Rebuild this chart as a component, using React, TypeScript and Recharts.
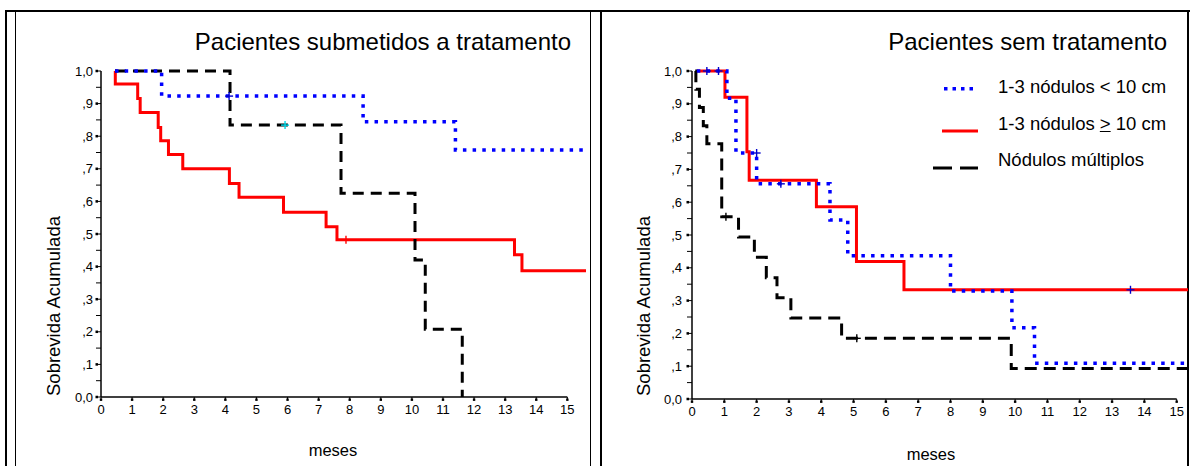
import React from 'react';
import { ComposedChart, Line, Scatter, XAxis, YAxis, ReferenceLine } from 'recharts';

const FONT = '"Liberation Sans", Arial, Helvetica, sans-serif';

const BLUE = '#0000ff';
const RED = '#ff0000';
const BLACK = '#000000';

// axis ticks
const monthTicks = [0, 1, 2, 3, 4, 5, 6, 7, 8, 9, 10, 11, 12, 13, 14, 15];
const survivalTicks = [
  0, 0.05, 0.1, 0.15, 0.2, 0.25, 0.3, 0.35, 0.4, 0.45, 0.5,
  0.55, 0.6, 0.65, 0.7, 0.75, 0.8, 0.85, 0.9, 0.95, 1,
];

// Pacientes submetidos a tratamento (step points: time in months, cumulative survival)
const treatedSmallT = [0.45, 1.95, 8.43, 11.4, 15.6];
const treatedSmallS = [1.0, 0.923, 0.844, 0.758, 0.758];
const treatedLargeT = [0.45, 0.46, 1.18, 1.26, 1.84, 1.92, 2.17, 2.63, 4.13, 4.44, 5.87, 7.24, 7.59, 13.3, 13.54, 15.6];
const treatedLargeS = [1.0, 0.96, 0.916, 0.873, 0.827, 0.786, 0.744, 0.7, 0.655, 0.613, 0.567, 0.522, 0.482, 0.436, 0.387, 0.387];
const treatedMultiT = [0.45, 4.15, 7.72, 10.1, 10.43, 11.62];
const treatedMultiS = [1.0, 0.834, 0.625, 0.42, 0.208, 0];

// censored cases (treated)
const treatedCensorBlueT = [4.12];
const treatedCensorBlueS = [0.923];
const treatedCensorCyanT = [5.92];
const treatedCensorCyanS = [0.834];
const treatedCensorRedT = [7.88];
const treatedCensorRedS = [0.482];

// Pacientes sem tratamento
const untreatedSmallT = [0.15, 1.08, 1.36, 2.0, 4.27, 4.82, 8.0, 9.9, 10.6, 15.35];
const untreatedSmallS = [1.0, 0.917, 0.75, 0.656, 0.546, 0.437, 0.329, 0.217, 0.109, 0.109];
const untreatedLargeT = [0.15, 1.02, 1.7, 1.77, 3.85, 5.09, 6.56, 15.35];
const untreatedLargeS = [1.0, 0.92, 0.754, 0.667, 0.586, 0.419, 0.333, 0.333];
const untreatedMultiT = [0.1, 0.12, 0.23, 0.35, 0.46, 0.92, 1.44, 1.93, 2.3, 2.63, 3.06, 4.63, 9.88, 15.35];
const untreatedMultiS = [1.0, 0.944, 0.889, 0.833, 0.778, 0.556, 0.494, 0.432, 0.37, 0.309, 0.247, 0.185, 0.093, 0.093];

// censored cases (untreated)
const untreatedCensorBlueT = [0.46, 0.82, 2.0, 2.75, 13.57];
const untreatedCensorBlueS = [1.0, 1.0, 0.75, 0.656, 0.333];
const untreatedCensorBlackT = [1.05, 5.1];
const untreatedCensorBlackS = [0.556, 0.185];

const toPoints = (t: number[], s: number[]) => t.map((x, i) => ({ t: x, s: s[i] }));

type Series = { key: string; t: number[]; s: number[]; color: string; dash?: string; width: number };
type Censor = { key: string; t: number[]; s: number[]; color: string };

const X_TICK_SIZE = 3;
const X_TICK_MARGIN = 5;
const Y_TICK_SIZE = 5;
const TICK_FONT = 13;

function XTick(props: any) {
  const { x, y, payload } = props;
  const axisY = y - X_TICK_SIZE - X_TICK_MARGIN;
  return (
    <g>
      <rect x={x - 1.2} y={axisY + 1.5} width={2.4} height={2.4} fill="#000" />
      <text x={x} y={y} dy="0.71em" textAnchor="middle" fontSize={TICK_FONT} fontFamily={FONT} fill="#000">
        {payload.value}
      </text>
    </g>
  );
}

function YTick(props: any) {
  const { x, y, payload, gap } = props;
  const v = payload.value as number;
  if (Math.round(v * 100) % 10 !== 0) return <g />;
  const axisX = x + Y_TICK_SIZE + gap;
  const label = v === 1 ? '1,0' : v === 0 ? '0,0' : ',' + Math.round(v * 10);
  return (
    <g>
      <rect x={axisX - Y_TICK_SIZE - 0.5} y={y - 1.25} width={2.5} height={2.5} fill="#000" />
      <text x={x} y={y} dy="0.36em" textAnchor="end" fontSize={TICK_FONT} fontFamily={FONT} fill="#000">
        {label}
      </text>
    </g>
  );
}

function Plus({ cx, cy, color }: { cx: number; cy: number; color: string }) {
  return (
    <g stroke={color} strokeWidth={1.4}>
      <line x1={cx - 4} y1={cy} x2={cx + 4} y2={cy} />
      <line x1={cx} y1={cy - 4} x2={cx} y2={cy + 4} />
    </g>
  );
}

interface PanelProps {
  width: number;
  xMax: number;
  margin: { top: number; right: number; bottom: number; left: number };
  gap: number;
  series: Series[];
  censors: Censor[];
}

function KmPanel({ width, xMax, margin, gap, series, censors }: PanelProps) {
  return (
    <ComposedChart width={width} height={466} margin={margin}>
      <XAxis
        type="number"
        dataKey="t"
        domain={[0, xMax]}
        ticks={monthTicks}
        interval={0}
        height={30}
        axisLine={false}
        tickLine={{ stroke: '#000' }}
        tickSize={X_TICK_SIZE}
        tickMargin={X_TICK_MARGIN}
        tick={(p: any) => <XTick {...p} />}
        allowDataOverflow
      />
      <YAxis
        type="number"
        domain={[0, 1]}
        ticks={survivalTicks}
        interval={0}
        width={40}
        axisLine={{ stroke: '#000', strokeWidth: 1.5 }}
        tickLine={{ stroke: '#000' }}
        tickSize={Y_TICK_SIZE}
        tickMargin={gap}
        tick={(p: any) => <YTick {...p} gap={gap} />}
      />
      <ReferenceLine segment={[{ x: 0, y: 0 }, { x: 15, y: 0 }]} stroke="#000" strokeWidth={1.5} />
      {series.map((sr) => (
        <Line
          key={sr.key}
          data={toPoints(sr.t, sr.s)}
          dataKey="s"
          type="stepAfter"
          stroke={sr.color}
          strokeWidth={sr.width}
          strokeDasharray={sr.dash}
          dot={false}
          activeDot={false}
          isAnimationActive={false}
        />
      ))}
      {censors.map((c) => (
        <Scatter
          key={c.key}
          data={toPoints(c.t, c.s)}
          dataKey="s"
          isAnimationActive={false}
          shape={(p: any) => <Plus cx={p.cx} cy={p.cy} color={c.color} />}
        />
      ))}
    </ComposedChart>
  );
}

const abs = (style: React.CSSProperties): React.CSSProperties => ({ position: 'absolute', ...style });

export default function App() {
  const treatedSeries: Series[] = [
    { key: 'large', t: treatedLargeT, s: treatedLargeS, color: RED, width: 3 },
    { key: 'multi', t: treatedMultiT, s: treatedMultiS, color: BLACK, dash: '11 7', width: 3 },
    { key: 'small', t: treatedSmallT, s: treatedSmallS, color: BLUE, dash: '3.5 6.2', width: 3.5 },
  ];
  const treatedCensors: Censor[] = [
    { key: 'cb', t: treatedCensorBlueT, s: treatedCensorBlueS, color: '#0000cc' },
    { key: 'cc', t: treatedCensorCyanT, s: treatedCensorCyanS, color: '#00d8e8' },
    { key: 'cr', t: treatedCensorRedT, s: treatedCensorRedS, color: RED },
  ];
  const untreatedSeries: Series[] = [
    { key: 'large', t: untreatedLargeT, s: untreatedLargeS, color: RED, width: 3 },
    { key: 'multi', t: untreatedMultiT, s: untreatedMultiS, color: BLACK, dash: '12 7', width: 3 },
    { key: 'small', t: untreatedSmallT, s: untreatedSmallS, color: BLUE, dash: '3.5 6.2', width: 3.5 },
  ];
  const untreatedCensors: Censor[] = [
    { key: 'cb', t: untreatedCensorBlueT, s: untreatedCensorBlueS, color: '#0000cc' },
    { key: 'ck', t: untreatedCensorBlackT, s: untreatedCensorBlackS, color: BLACK },
  ];

  const rotLabel: React.CSSProperties = {
    position: 'absolute',
    transform: 'translate(-50%, -50%) rotate(-90deg)',
    whiteSpace: 'nowrap',
    fontSize: 18.5,
    lineHeight: 1,
  };

  return (
    <div style={abs({ left: 0, top: 0, width: 1190, height: 466, background: '#fff', fontFamily: FONT, color: '#000', overflow: 'hidden' })}>
      {/* table borders */}
      <div style={abs({ left: 5, top: 10, width: 1185, height: 2, background: '#000' })} />
      <div style={abs({ left: 5, top: 10, width: 2, height: 456, background: '#000' })} />
      <div style={abs({ left: 15, top: 12, width: 1, height: 454, background: '#000' })} />
      <div style={abs({ left: 590, top: 12, width: 1, height: 454, background: '#000' })} />
      <div style={abs({ left: 600, top: 12, width: 2, height: 454, background: '#000' })} />
      <div style={abs({ left: 1187, top: 12, width: 2, height: 454, background: '#000' })} />

      {/* left panel */}
      <div style={abs({ left: 0, top: 0 })}>
        <KmPanel
          width={600}
          xMax={15.6}
          margin={{ top: 71, right: 14, bottom: 39, left: 61 }}
          gap={3}
          series={treatedSeries}
          censors={treatedCensors}
        />
      </div>
      <div style={abs({ left: 0, top: 30, width: 571, textAlign: 'right', fontSize: 24, lineHeight: 1, whiteSpace: 'nowrap' })}>
        Pacientes submetidos a tratamento
      </div>
      <div style={{ ...rotLabel, left: 54, top: 306 }}>Sobrevida Acumulada</div>
      <div style={abs({ left: 333, top: 450, transform: 'translate(-50%, -50%)', fontSize: 16.5, lineHeight: 1 })}>meses</div>

      {/* right panel */}
      <div style={abs({ left: 600, top: 0 })}>
        <KmPanel
          width={590}
          xMax={15.35}
          margin={{ top: 71, right: 2, bottom: 37, left: 52 }}
          gap={5}
          series={untreatedSeries}
          censors={untreatedCensors}
        />
      </div>
      <div style={abs({ left: 600, top: 30, width: 567, textAlign: 'right', fontSize: 24, lineHeight: 1, whiteSpace: 'nowrap' })}>
        Pacientes sem tratamento
      </div>
      <div style={{ ...rotLabel, left: 644, top: 306 }}>Sobrevida Acumulada</div>
      <div style={abs({ left: 931, top: 454, transform: 'translate(-50%, -50%)', fontSize: 16.5, lineHeight: 1 })}>meses</div>

      {/* legend */}
      <svg style={abs({ left: 925, top: 80, overflow: 'visible' })} width={60} height={100}>
        <line x1={19} y1={8.7} x2={52} y2={8.7} stroke={BLUE} strokeWidth={3.5} strokeDasharray="3.5 5" />
        <line x1={17} y1={51} x2={53} y2={51} stroke={RED} strokeWidth={3} />
        <line x1={8} y1={88} x2={53} y2={88} stroke={BLACK} strokeWidth={3} strokeDasharray="19 8" />
      </svg>
      <div style={abs({ left: 998, top: 78, fontSize: 18.5, lineHeight: 1, whiteSpace: 'nowrap' })}>1-3 nódulos &lt; 10 cm</div>
      <div style={abs({ left: 998, top: 115, fontSize: 18.5, lineHeight: 1, whiteSpace: 'nowrap' })}>
        1-3 nódulos <u>&gt;</u> 10 cm
      </div>
      <div style={abs({ left: 998, top: 151, fontSize: 18.5, lineHeight: 1, whiteSpace: 'nowrap' })}>Nódulos múltiplos</div>
    </div>
  );
}
